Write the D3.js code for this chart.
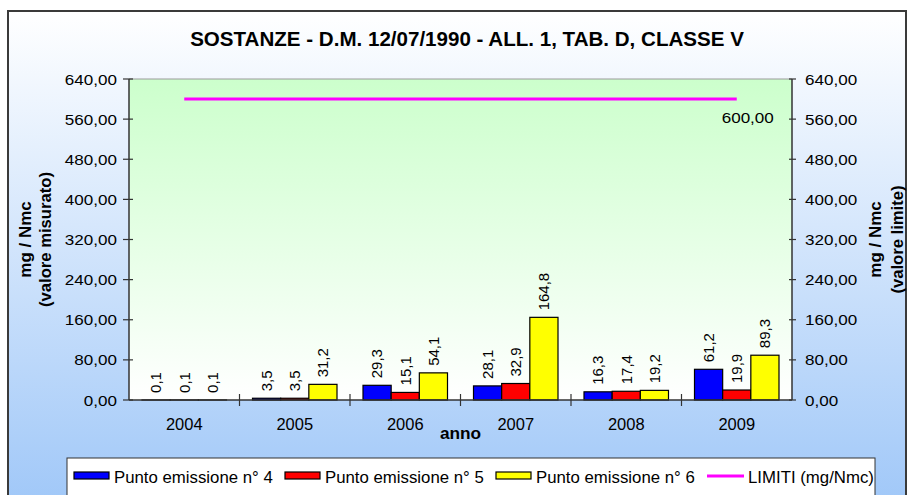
<!DOCTYPE html>
<html><head><meta charset="utf-8">
<script src="https://cdn.jsdelivr.net/npm/d3@7"></script>
<style>html,body{margin:0;padding:0;background:#fff;overflow:hidden}svg{display:block}text{font-family:"Liberation Sans",Arial,sans-serif;fill:#000}</style>
</head><body>
<script>
const years = ["2004","2005","2006","2007","2008","2009"];
const seriesNames = ["Punto emissione n° 4","Punto emissione n° 5","Punto emissione n° 6"];
const punto4 = [0.1, 3.5, 29.3, 28.1, 16.3, 61.2];
const punto5 = [0.1, 3.5, 15.1, 32.9, 17.4, 19.9];
const punto6 = [0.1, 31.2, 54.1, 164.8, 19.2, 89.3];
const limiti = [600, 600, 600, 600, 600, 600];
const limitName = "LIMITI (mg/Nmc)";
const yTicks = [0, 80, 160, 240, 320, 400, 480, 560, 640];
const seriesColors = ["#0000ff", "#ff0000", "#ffff00"];
const title = "SOSTANZE - D.M. 12/07/1990 - ALL. 1, TAB. D, CLASSE V";

const W = 912, H = 495;
const L = 129, R = 792, T = 79, B = 400;
const svg = d3.select("body").append("svg").attr("width", W).attr("height", H);
const defs = svg.append("defs");
const g1 = defs.append("linearGradient").attr("id","bg").attr("x1",0).attr("y1",0).attr("x2",0).attr("y2",1);
g1.append("stop").attr("offset","0%").attr("stop-color","#ffffff");
g1.append("stop").attr("offset","100%").attr("stop-color","#9fc7f8");
const g2 = defs.append("linearGradient").attr("id","pl").attr("x1",0).attr("y1",0).attr("x2",0).attr("y2",1);
g2.append("stop").attr("offset","0%").attr("stop-color","#ccffcc");
g2.append("stop").attr("offset","100%").attr("stop-color","#ffffff");

function txt(x, y, s, o) {
  o = Object.assign({size:16, weight:"normal", anchor:"start", rot:0, sx:1.05, dy:"0"}, o||{});
  return svg.append("text")
    .attr("transform", `translate(${x},${y}) rotate(${o.rot}) scale(${o.sx},1)`)
    .attr("text-anchor", o.anchor).attr("dy", o.dy)
    .style("font-size", o.size + "px").style("font-weight", o.weight).text(s);
}
const fmt2 = v => d3.format(".2f")(v).replace(".", ",");
const fmt1 = v => d3.format(".1f")(v).replace(".", ",");

// outer box
svg.append("rect").attr("x",8).attr("y",11).attr("width",898).attr("height",500)
  .attr("fill","url(#bg)").attr("stroke","#3a3a3a").attr("stroke-width",2);

txt(467, 46, title, {size:19.5, weight:"bold", anchor:"middle", sx:1.055});

const x0 = d3.scaleBand().domain(years).range([L, R]).padding(0);
const x1 = d3.scaleBand().domain([0,1,2]).range([13, x0.bandwidth() - 13]).padding(0);
const y = d3.scaleLinear().domain([0, 640]).range([B, T]);
const yR = d3.scaleLinear().domain([0, 640]).range([B, T]);

// plot area
svg.append("rect").attr("x",L).attr("y",T).attr("width",R-L).attr("height",B-T).attr("fill","url(#pl)");
svg.append("line").attr("x1",L).attr("x2",R).attr("y1",T).attr("y2",T).attr("stroke","#9a9a9a").attr("stroke-width",1);

// bars
const series = [punto4, punto5, punto6];
series.forEach((vals, si) => {
  svg.append("g").selectAll("rect").data(vals).join("rect")
    .attr("x", (d,i) => x0(years[i]) + x1(si))
    .attr("y", d => y(d))
    .attr("width", x1.bandwidth())
    .attr("height", d => B - y(d))
    .attr("fill", seriesColors[si]).attr("stroke","#000").attr("stroke-width",1.2);
});
series.forEach((vals, si) => {
  vals.forEach((v, i) => {
    const cx = x0(years[i]) + x1(si) + x1.bandwidth()/2;
    txt(cx, y(v) - 7, fmt1(v), {size:15, rot:-90, sx:1.0, dy:"0.35em"});
  });
});

// limit line
const line = d3.line().x((d,i) => x0(years[i]) + x0.bandwidth()/2).y(d => yR(d));
svg.append("path").datum(limiti).attr("d", line).attr("fill","none").attr("stroke","#ff00ff").attr("stroke-width",3);
txt(x0(years[5]) + x0.bandwidth()/2 + 11, yR(limiti[5]) + 24, fmt2(limiti[5]), {size:15.5, anchor:"middle", sx:1.1});

// axes
const axisCol = "#333";
svg.append("line").attr("x1",L).attr("x2",L).attr("y1",T).attr("y2",B).attr("stroke",axisCol).attr("stroke-width",1.5);
svg.append("line").attr("x1",R).attr("x2",R).attr("y1",T).attr("y2",B).attr("stroke",axisCol).attr("stroke-width",1.5);
svg.append("line").attr("x1",L).attr("x2",R).attr("y1",B).attr("y2",B).attr("stroke",axisCol).attr("stroke-width",1.5);
yTicks.forEach(t => {
  svg.append("line").attr("x1",L-6).attr("x2",L+4).attr("y1",y(t)).attr("y2",y(t)).attr("stroke",axisCol).attr("stroke-width",1.2);
  txt(117, y(t) + 5.5, fmt2(t), {size:15.5, anchor:"end", sx:1.1});
  svg.append("line").attr("x1",R-3).attr("x2",R+4).attr("y1",yR(t)).attr("y2",yR(t)).attr("stroke",axisCol).attr("stroke-width",1.2);
  txt(805, yR(t) + 5.5, fmt2(t), {size:15.5, anchor:"start", sx:1.1});
});
years.forEach((yr, i) => {
  if (i > 0) svg.append("line").attr("x1",x0(yr)).attr("x2",x0(yr)).attr("y1",B-6).attr("y2",B+6).attr("stroke",axisCol).attr("stroke-width",1.2);
  txt(x0(yr) + x0.bandwidth()/2, 429.5, yr, {size:16, anchor:"middle", sx:1.03});
});
txt((L+R)/2, 439, "anno", {size:16, weight:"bold", anchor:"middle", sx:1.08});

// axis titles
txt(25, (T+B)/2, "mg / Nmc", {size:16, weight:"bold", anchor:"middle", rot:-90, dy:"0.35em", sx:1.06});
txt(45, (T+B)/2, "(valore misurato)", {size:16, weight:"bold", anchor:"middle", rot:-90, dy:"0.35em", sx:1.04});
txt(875, (T+B)/2, "mg / Nmc", {size:16, weight:"bold", anchor:"middle", rot:-90, dy:"0.35em", sx:1.06});
txt(897, (T+B)/2, "(valore limite)", {size:16, weight:"bold", anchor:"middle", rot:-90, dy:"0.35em", sx:1.04});

// legend
svg.append("rect").attr("x",67).attr("y",458).attr("width",808).attr("height",60).attr("fill","#fff").attr("stroke","#333").attr("stroke-width",1);
const legX = [74, 285, 496, 707];
seriesNames.forEach((n, i) => {
  svg.append("rect").attr("x",legX[i]).attr("y",472).attr("width",35).attr("height",7)
    .attr("fill",seriesColors[i]).attr("stroke","#000").attr("stroke-width",1.2);
  txt(legX[i] + 40, 483, n, {size:16, sx:1.05});
});
svg.append("line").attr("x1",legX[3]).attr("x2",legX[3]+37).attr("y1",476).attr("y2",476).attr("stroke","#ff00ff").attr("stroke-width",3);
txt(legX[3] + 41, 483, limitName, {size:16, sx:1.05});
</script>
</body></html>
